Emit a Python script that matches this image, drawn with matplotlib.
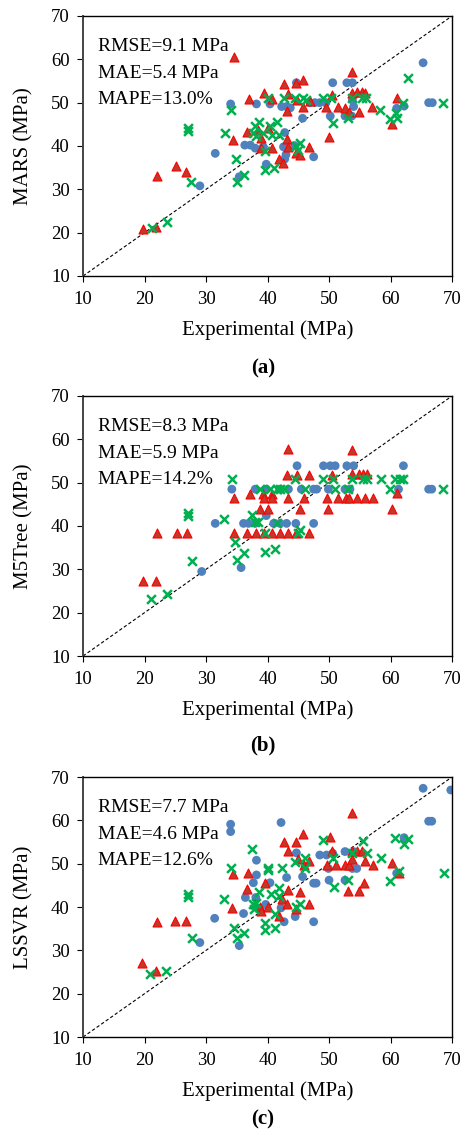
import matplotlib
matplotlib.use("Agg")
import matplotlib.pyplot as plt
import numpy as np

plt.rcParams['font.family'] = ['Liberation Serif', 'DejaVu Serif']

### Data (MPa) ###
# (a) MARS
mars_blue_x = [29.0, 31.5, 34.0, 35.4, 36.3, 37.2, 38.0, 38.2, 39.3, 39.8, 40.4, 42.3, 42.8, 43.1,
               42.6, 43.0, 42.8, 43.7, 44.4, 44.7, 45.7, 46.9, 47.5, 47.7, 48.5, 49.5, 50.2, 50.6,
               52.6, 52.9, 53.7, 53.8, 53.8, 54.0, 61.0, 62.2, 65.3, 66.2, 66.8]
mars_blue_y = [30.8, 38.3, 49.7, 32.9, 40.2, 40.2, 39.5, 49.7, 39.8, 35.8, 49.7, 49.1, 43.1, 49.1,
               39.8, 38.0, 37.0, 48.8, 40.1, 54.6, 46.4, 50.0, 37.5, 50.0, 50.0, 50.0, 46.9, 54.6,
               46.9, 54.6, 46.9, 54.6, 50.6, 49.1, 48.7, 49.2, 59.2, 50.0, 50.0]
mars_red_x = [19.8, 21.9, 22.1, 25.1, 26.8, 34.5, 34.4, 36.6, 37.0, 38.5, 39.0, 39.0, 39.5, 40.1,
              40.8, 40.8, 41.9, 42.5, 42.6, 43.3, 43.2, 43.2, 43.3, 44.6, 44.6, 44.8, 45.3, 45.7,
              45.8, 46.8, 46.9, 49.5, 50.0, 50.5, 51.4, 52.6, 53.3, 53.8, 53.8, 54.6, 54.8, 55.3,
              55.9, 57.0, 60.2, 61.0]
mars_red_y = [20.8, 21.4, 33.1, 35.4, 34.1, 60.5, 41.4, 43.3, 50.9, 43.7, 39.5, 41.8, 52.2, 44.1,
              39.5, 50.9, 37.0, 36.1, 54.3, 51.9, 48.1, 41.6, 39.8, 54.5, 38.3, 50.6, 37.9, 55.2,
              49.1, 39.8, 50.4, 49.1, 42.1, 51.8, 49.0, 48.8, 47.8, 57.0, 52.2, 52.4, 47.8, 52.4,
              52.2, 49.0, 45.1, 51.0]
mars_green_x = [21.2, 23.6, 27.1, 27.1, 27.6, 33.1, 34.0, 34.9, 35.0, 36.1, 37.7, 38.0, 38.2, 38.6,
                39.2, 39.6, 39.6, 40.1, 40.4, 40.8, 41.1, 41.5, 41.9, 42.6, 44.5, 44.7, 45.0, 45.3,
                45.8, 46.3, 49.1, 50.4, 50.7, 53.1, 53.7, 55.3, 56.0, 58.3, 59.9, 60.9, 61.0, 62.1,
                62.8, 68.6]
mars_green_y = [21.1, 22.4, 43.5, 44.1, 31.6, 42.9, 48.3, 36.9, 31.8, 33.3, 43.0, 44.5, 42.2, 45.5,
                43.0, 38.8, 34.5, 51.1, 44.5, 42.5, 34.9, 45.5, 42.5, 51.1, 51.1, 40.0, 39.0, 40.6,
                51.0, 50.6, 51.0, 51.0, 45.2, 46.4, 51.0, 51.0, 51.0, 48.3, 46.2, 47.5, 46.4, 49.9,
                55.6, 49.9]

# (b) M5Tree
m5_blue_x = [29.3, 31.5, 34.2, 35.7, 36.1, 36.9, 38.0, 38.0, 39.8, 39.8, 41.0, 42.0, 42.0, 43.1,
             43.4, 44.6, 44.8, 45.5, 47.5, 47.5, 48.0, 49.1, 49.9, 50.2, 51.0, 52.6, 52.9, 53.4,
             54.0, 61.3, 62.1, 66.2, 66.7]
m5_blue_y = [29.5, 40.6, 48.5, 30.4, 40.6, 40.6, 40.6, 48.5, 42.4, 48.5, 40.6, 40.6, 48.5, 40.6,
             48.5, 40.6, 53.9, 48.5, 40.6, 48.5, 48.5, 53.9, 48.5, 53.9, 53.9, 48.5, 53.9, 48.5,
             53.9, 48.5, 53.9, 48.5, 48.5]
m5_red_x = [19.8, 21.9, 22.1, 25.2, 26.9, 34.6, 34.6, 36.6, 37.2, 38.2, 38.8, 39.2, 39.5, 39.5,
            40.1, 40.8, 40.8, 40.8, 42.0, 43.1, 43.4, 43.4, 43.4, 44.7, 44.8, 45.3, 46.0, 46.8,
            46.8, 49.6, 49.9, 50.5, 51.5, 52.8, 53.3, 53.8, 53.8, 54.5, 54.9, 55.5, 55.9, 56.1,
            57.1, 60.2, 61.0]
m5_red_y = [27.3, 27.3, 38.3, 38.3, 38.3, 46.4, 38.3, 38.3, 47.4, 38.3, 43.9, 47.4, 38.3, 46.4,
            43.9, 47.4, 46.4, 38.3, 38.3, 51.8, 57.8, 46.4, 38.3, 38.3, 51.8, 43.9, 46.4, 51.8,
            38.3, 46.4, 43.9, 51.8, 46.4, 46.4, 46.4, 57.5, 51.9, 46.4, 51.9, 51.9, 46.4, 51.9,
            46.4, 43.9, 47.5]
m5_green_x = [21.1, 23.6, 27.0, 27.0, 27.8, 33.0, 34.2, 34.7, 35.0, 36.1, 37.5, 38.0, 38.4, 38.8,
              39.6, 39.6, 40.4, 41.2, 41.5, 41.5, 42.0, 42.6, 44.5, 45.0, 45.3, 46.1, 49.1, 50.7,
              51.0, 53.1, 53.7, 55.5, 56.1, 58.5, 59.9, 60.7, 61.5, 62.1, 68.6]
m5_green_y = [23.1, 24.3, 42.9, 42.4, 31.9, 41.5, 50.8, 36.2, 32.2, 33.7, 42.5, 41.0, 41.0, 48.5,
              38.3, 34.1, 48.5, 34.7, 48.5, 40.6, 48.5, 48.5, 50.8, 38.3, 39.1, 48.5, 50.8, 50.8,
              48.5, 48.5, 50.8, 50.8, 50.8, 50.8, 48.5, 50.8, 50.8, 50.8, 48.5]

# (c) LSSVR
ls_blue_x = [29.0, 31.4, 34.0, 34.0, 35.4, 36.1, 36.4, 37.7, 38.1, 38.2, 38.2, 39.7, 40.4, 42.2,
             42.2, 42.7, 43.1, 44.5, 44.7, 45.7, 47.5, 47.5, 47.9, 48.5, 49.6, 49.9, 50.0, 50.6,
             52.6, 52.6, 53.8, 54.0, 54.5, 61.0, 62.2, 65.3, 66.2, 66.7, 69.8]
ls_blue_y = [31.8, 37.4, 59.1, 57.4, 31.1, 38.5, 42.2, 45.6, 42.2, 50.8, 47.4, 40.6, 45.6, 59.5,
             39.8, 36.6, 46.8, 37.8, 52.5, 47.0, 45.5, 36.6, 45.5, 52.0, 52.0, 48.9, 46.2, 52.4,
             52.8, 46.2, 48.9, 52.8, 48.9, 47.8, 56.0, 67.4, 59.8, 59.8, 67.0]
ls_red_x = [19.6, 21.8, 22.1, 24.9, 26.7, 34.3, 34.4, 36.6, 36.9, 38.0, 38.8, 39.0, 39.6, 40.1,
            41.9, 42.3, 42.6, 43.1, 43.3, 43.3, 44.6, 44.6, 45.0, 45.3, 45.7, 45.9, 46.8, 46.8,
            49.6, 50.1, 50.5, 51.2, 52.6, 53.1, 53.3, 53.8, 53.8, 53.8, 54.5, 54.8, 55.3, 55.7,
            55.9, 57.1, 60.2, 61.3]
ls_red_y = [27.1, 25.2, 36.5, 36.8, 36.8, 39.7, 47.6, 44.2, 47.9, 40.6, 39.9, 39.1, 45.6, 39.9,
            38.0, 41.8, 55.1, 40.6, 52.9, 43.9, 55.1, 39.5, 51.0, 43.5, 56.8, 49.8, 50.6, 40.6,
            49.8, 56.2, 52.9, 49.8, 49.8, 43.7, 49.8, 61.6, 52.9, 51.0, 52.9, 43.7, 52.9, 45.6,
            50.6, 49.8, 50.1, 47.8]
ls_green_x = [20.9, 23.5, 27.0, 27.0, 27.7, 33.0, 34.0, 34.6, 35.0, 36.1, 37.5, 37.7, 37.8, 38.2,
              38.6, 39.6, 39.6, 40.1, 40.1, 40.5, 41.2, 41.2, 41.8, 41.8, 42.3, 44.5, 44.7, 45.3,
              46.1, 46.1, 49.1, 50.7, 50.8, 53.1, 53.7, 55.5, 56.1, 58.5, 59.9, 60.7, 61.3, 62.2,
              62.9, 68.7]
ls_green_y = [24.5, 25.3, 42.9, 42.4, 32.8, 41.8, 49.1, 35.2, 32.8, 33.9, 53.4, 40.6, 39.5, 41.0,
              43.5, 36.2, 34.7, 49.1, 48.5, 43.0, 38.5, 35.2, 44.5, 42.5, 48.9, 50.5, 40.0, 40.6,
              51.4, 49.1, 55.5, 51.2, 44.7, 46.2, 52.4, 55.2, 52.4, 51.2, 46.0, 56.0, 48.3, 54.5,
              55.7, 47.8]

models = ["MARS", "M5Tree", "LSSVR"]
panel_tags = ["(a)", "(b)", "(c)"]
stats = [("9.1", "5.4", "13.0"), ("8.3", "5.9", "14.2"), ("7.7", "4.6", "12.6")]
series = [
    [(mars_blue_x, mars_blue_y), (mars_red_x, mars_red_y), (mars_green_x, mars_green_y)],
    [(m5_blue_x, m5_blue_y), (m5_red_x, m5_red_y), (m5_green_x, m5_green_y)],
    [(ls_blue_x, ls_blue_y), (ls_red_x, ls_red_y), (ls_green_x, ls_green_y)],
]
ticks = [10, 20, 30, 40, 50, 60, 70]
### End data ###

W, H = 462, 1133
fig = plt.figure(figsize=(W / 100, H / 100), dpi=100)

# axes boxes in figure fractions (left, bottom, width, height)
boxes = [
    (0.1797, 0.7564, 0.7987, 0.2295),
    (0.1797, 0.4210, 0.7987, 0.2295),
    (0.1797, 0.0847, 0.7987, 0.2295),
]
tag_y_px = [368, 745, 1119]

for i, box in enumerate(boxes):
    ax = fig.add_axes(box)
    (bx, by), (rx, ry), (gx, gy) = series[i]

    ax.plot([10, 70], [10, 70], color='k', ls=(0, (3, 2)), lw=0.8, zorder=1)
    ax.scatter(bx, by, s=40, marker='o', color='#4F81BD', edgecolors='none', zorder=2)
    ax.scatter(rx, ry, s=42, marker='^', facecolor='#C0392B', edgecolors='#FF0000',
               linewidths=0.8, zorder=3)
    ax.scatter(gx, gy, s=40, marker='x', color='#00B050', linewidths=1.8, zorder=4)

    ax.set_xlim(10, 70)
    ax.set_ylim(10, 70)
    ax.set_xticks(ticks)
    ax.set_yticks(ticks)
    ax.tick_params(direction='out', length=4.5, width=0.8, labelsize=13.5)
    ax.tick_params(axis='x', pad=6)
    ax.tick_params(axis='y', pad=5)
    for sp in ax.spines.values():
        sp.set_linewidth(1.0)
    ax.spines['left'].set_color('#444444')
    ax.spines['left'].set_linewidth(1.4)

    ax.set_xlabel("Experimental (MPa)", fontsize=15, labelpad=9)
    ax.set_ylabel(f"{models[i]} (MPa)", fontsize=15, labelpad=13)

    rmse, mae, mape = stats[i]
    for j, txt in enumerate([f"RMSE={rmse} MPa", f"MAE={mae} MPa", f"MAPE={mape}%"]):
        ax.text(0.04, 0.865 - j * 0.102, txt, transform=ax.transAxes, fontsize=14,
                va='baseline', ha='left')

    fig.text(263 / W, 1 - tag_y_px[i] / H, panel_tags[i], fontsize=15,
             fontweight='bold', ha='center', va='center')

fig.savefig("out.png", dpi=100)
